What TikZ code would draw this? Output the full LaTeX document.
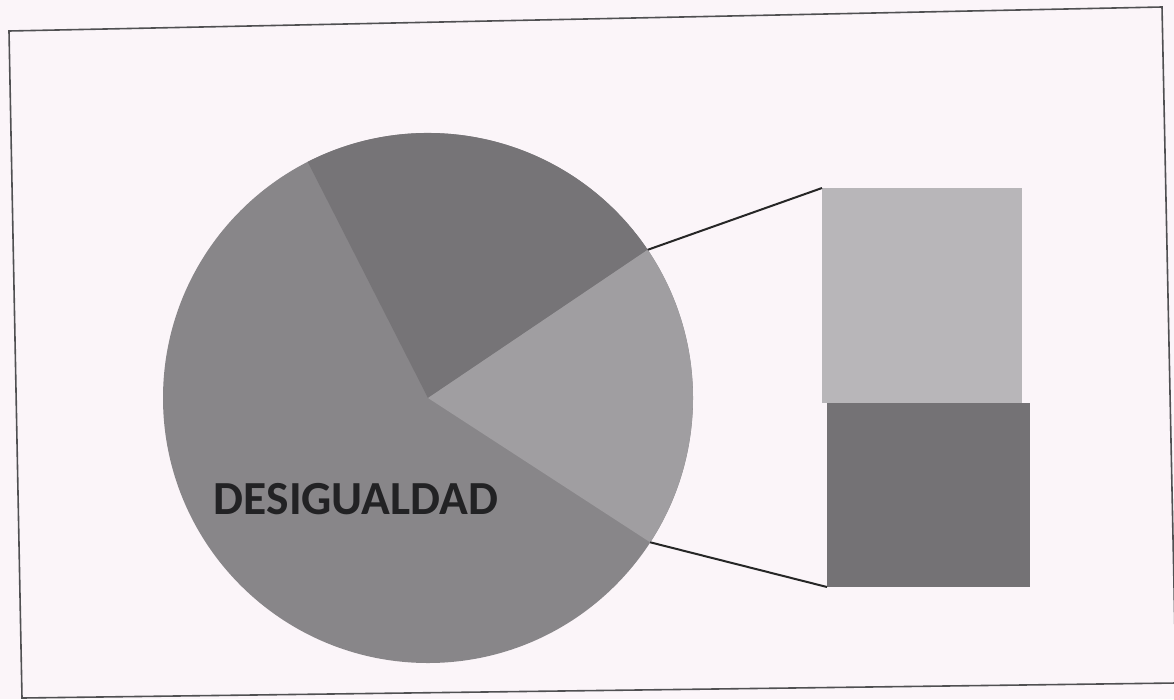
\documentclass[tikz,border=0pt]{standalone}
\usepackage{fontspec}
\newfontfamily\labelfont{Carlito}
\definecolor{paper}{RGB}{251,245,249}
\definecolor{piemid}{RGB}{136,134,137}
\definecolor{piedark}{RGB}{118,116,119}
\definecolor{pielight}{RGB}{160,158,161}
\definecolor{barlight}{RGB}{184,182,185}
\definecolor{bardark}{RGB}{116,114,117}
\definecolor{framecol}{RGB}{80,80,82}
\definecolor{txtcol}{RGB}{34,34,36}
\tikzset{
  frameline/.style={draw=framecol, line width=1.6pt},
  connector/.style={draw=black!85, line width=2pt},
  barbox/.style={rectangle, inner sep=0pt, outer sep=0pt, minimum width=200pt},
  bigtext/.style={font=\labelfont\bfseries\fontsize{47.5}{52}\selectfont, text=txtcol, inner sep=0pt}
}
\begin{document}
\begin{tikzpicture}[x=1pt,y=-1pt]
\useasboundingbox (0,0) rectangle (1174,699);
\fill[paper] (0,0) rectangle (1174,699);
% frame
\draw[frameline] (9,31) -- (1162,7) -- (1176,683) -- (22,698) -- cycle;
% pie
\coordinate (c) at (428,398);
\coordinate (pa) at (307.7,161.9);
\coordinate (pb) at (647.7,249.8);
\coordinate (pd) at (650.2,542.3);
\fill[piemid] (c) circle[radius=265];
\fill[piedark] (c) -- (pb) arc[start angle=-34, end angle=-117, radius=265] -- cycle;
\fill[pielight] (c) -- (pd) arc[start angle=33, end angle=-34, radius=265] -- cycle;
% bar
\node[barbox, fill=barlight, minimum height=215pt] (bartop) at (922,295.5) {};
\node[barbox, fill=bardark, minimum width=203pt, minimum height=184pt] (barbot) at (928.5,495) {};
% connectors
\draw[connector] (pb) -- (bartop.north west);
\draw[connector] (pd) -- (barbot.south west);
% label
\node[bigtext, anchor=base] (lbl) at (356,514) {DESIGUALDAD};
\end{tikzpicture}
\end{document}
